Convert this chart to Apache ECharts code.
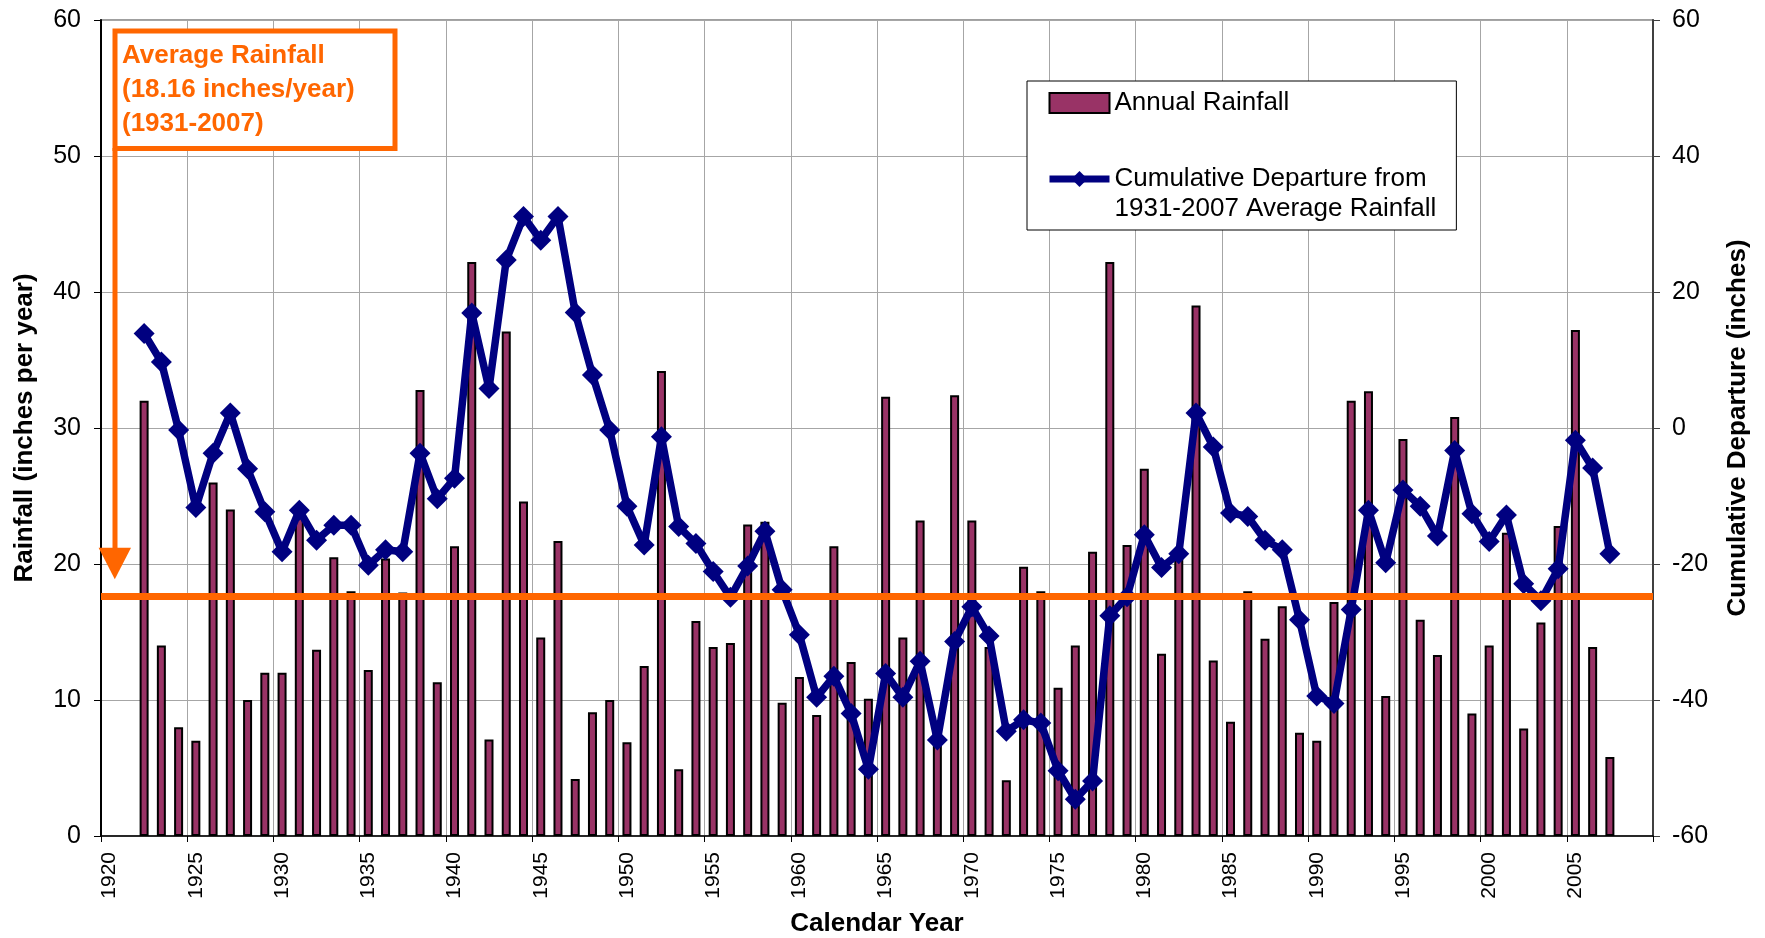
<!DOCTYPE html>
<html>
<head>
<meta charset="utf-8">
<title>Annual Rainfall and Cumulative Departure</title>
<script src="https://cdn.jsdelivr.net/npm/echarts/dist/echarts.min.js"></script>
<style>
  html, body { margin: 0; padding: 0; background: #fff; }
  #chart { width: 1765px; height: 938px; }
</style>
</head>
<body>
<div id="chart"></div>
<script>
// category axis runs 1920-2009, data starts in 1922
const firstYear = 1920;
const lastYear = 2009;
const dataStartYear = 1922;

// annual rainfall, inches (1922-2007)
const rainfall = [
  32.0, 14.0, 8.0, 7.0, 26.0, 24.0, 10.0, 12.0, 12.0,             // 1922-1930
  24.2, 13.7, 20.5, 18.0, 12.2, 20.4, 17.9, 32.8, 11.3, 21.3,     // 1931-1940
  42.2, 7.1, 37.1, 24.6, 14.6, 21.7, 4.2, 9.1, 10.0, 6.9,         // 1941-1950
  12.5, 34.2, 4.9, 15.8, 13.9, 14.2, 22.9, 23.1, 9.8, 11.7,       // 1951-1960
  8.9, 21.3, 12.8, 10.1, 32.3, 14.6, 23.2, 6.8, 32.4, 23.2,       // 1961-1970
  13.9, 4.1, 19.8, 18.0, 10.9, 14.0, 20.9, 42.2, 21.4, 27.0,      // 1971-1980
  13.4, 20.4, 39.0, 12.9, 8.4, 18.0, 14.5, 16.9, 7.6, 7.0,        // 1981-1990
  17.2, 32.0, 32.7, 10.3, 29.2, 15.9, 13.3, 30.8, 9.0, 14.0,      // 1991-2000
  22.3, 7.9, 15.7, 22.8, 37.2, 13.9, 5.8                          // 2001-2007
];

// cumulative departure from the 1931-2007 average, inches (1922-2007)
const departure = [
  13.9, 9.7, -0.3, -11.7, -3.7, 2.2, -6.0, -12.3, -18.2,                 // 1922-1930
  -12.1, -16.5, -14.3, -14.3, -20.2, -17.9, -18.2, -3.7, -10.4, -7.4,    // 1931-1940
  16.9, 5.8, 24.7, 31.1, 27.6, 31.1, 17.0, 7.8, -0.3, -11.5,             // 1941-1950
  -17.2, -1.3, -14.5, -17.0, -21.1, -24.9, -20.3, -15.2, -23.8, -30.4,   // 1951-1960
  -39.6, -36.5, -42.0, -50.2, -36.1, -39.6, -34.3, -45.9, -31.4, -26.3,  // 1961-1970
  -30.6, -44.6, -42.9, -43.4, -50.4, -54.6, -51.9, -27.6, -24.8, -15.7,  // 1971-1980
  -20.5, -18.5, 2.2, -2.8, -12.5, -13.0, -16.5, -17.9, -28.2, -39.4,     // 1981-1990
  -40.5, -26.7, -12.1, -19.8, -9.1, -11.5, -15.9, -3.3, -12.6, -16.7,    // 1991-2000
  -12.8, -22.9, -25.4, -20.7, -1.8, -5.9, -18.5                          // 2001-2007
];

// level at which the average rainfall line is drawn on the left axis
const averageLineLevel = 17.6;

const barName = 'Annual Rainfall';
const lineName = 'Cumulative Departure from\n1931-2007 Average Rainfall';

const years = [];
for (let y = firstYear; y <= lastYear; y++) years.push(String(y));

function onYears(values) {
  return years.map(function (y) {
    const v = values[Number(y) - dataStartYear];
    return v === undefined ? null : v;
  });
}

const FONT = '"Liberation Sans", Arial, sans-serif';
const ORANGE = '#FF6600';
const NAVY = '#000080';
const PLUM = '#993366';
const GRID = '#a6a6a6';

const chart = echarts.init(document.getElementById('chart'));

const option = {
  animation: false,
  backgroundColor: '#fff',
  textStyle: { fontFamily: FONT },
  grid: {
    left: 101, right: 112, top: 20, bottom: 102,
    show: true, borderColor: '#808080', borderWidth: 1.5,
    outerBoundsMode: 'none'
  },
  legend: {
    orient: 'vertical',
    left: 1027, top: 81,
    padding: [7, 20, 6, 19],
    itemGap: 16,
    itemWidth: 60,
    itemHeight: 20,
    backgroundColor: '#fff',
    borderColor: '#000',
    borderWidth: 1,
    selectedMode: false,
    textStyle: { fontSize: 26, lineHeight: 30, color: '#000', fontFamily: FONT },
    lineStyle: { width: 7 },
    // blank first line keeps the line icon beside the first text line
    formatter: function (name) {
      return name === lineName ? '\n' + name : name;
    },
    data: [
      { name: barName, icon: 'rect' },
      { name: lineName }
    ]
  },
  xAxis: {
    type: 'category',
    data: years,
    boundaryGap: true,
    name: 'Calendar Year',
    nameLocation: 'middle',
    nameGap: 75,
    nameTextStyle: { fontSize: 26, fontWeight: 'bold', color: '#000', fontFamily: FONT },
    axisLine: { lineStyle: { color: '#000', width: 1.5 } },
    axisTick: { show: true, interval: 4, length: 6, lineStyle: { color: '#000' } },
    axisLabel: { interval: 4, rotate: 90, fontSize: 21, margin: 16, color: '#000', fontFamily: FONT },
    splitLine: { show: true, interval: 4, lineStyle: { color: GRID, width: 1 } }
  },
  yAxis: [
    {
      type: 'value',
      position: 'left',
      min: 0, max: 60, interval: 10,
      name: 'Rainfall (inches per year)',
      nameLocation: 'middle',
      nameRotate: 90,
      nameGap: 63,
      nameTextStyle: { fontSize: 26, fontWeight: 'bold', color: '#000', fontFamily: FONT },
      axisLine: { show: true, lineStyle: { color: '#000', width: 2 } },
      axisTick: { show: true, length: 7, lineStyle: { color: '#000' } },
      axisLabel: { fontSize: 25, margin: 20, color: '#000', fontFamily: FONT },
      splitLine: { show: true, lineStyle: { color: GRID, width: 1 } }
    },
    {
      type: 'value',
      position: 'right',
      min: -60, max: 60, interval: 20,
      name: 'Cumulative Departure (inches)',
      nameLocation: 'middle',
      nameRotate: 90,
      nameGap: 72,
      nameTextStyle: { fontSize: 26, fontWeight: 'bold', color: '#000', fontFamily: FONT },
      axisLine: { show: true, lineStyle: { color: '#404040', width: 2 } },
      axisTick: { show: true, length: 7, lineStyle: { color: '#404040' } },
      axisLabel: { fontSize: 25, margin: 19, color: '#000', fontFamily: FONT },
      splitLine: { show: false }
    }
  ],
  series: [
    {
      name: barName,
      type: 'bar',
      yAxisIndex: 0,
      data: onYears(rainfall),
      barWidth: 9,
      itemStyle: { color: PLUM, borderColor: '#000', borderWidth: 2 },
      z: 2,
      markLine: {
        silent: true,
        symbol: ['none', 'none'],
        label: { show: false },
        lineStyle: { color: ORANGE, width: 7, type: 'solid' },
        emphasis: { disabled: true },
        data: [{ yAxis: averageLineLevel }]
      }
    },
    {
      name: lineName,
      type: 'line',
      yAxisIndex: 1,
      data: onYears(departure),
      symbol: 'diamond',
      symbolSize: [21, 21],
      showAllSymbol: true,
      lineStyle: { color: NAVY, width: 7.5 },
      itemStyle: { color: NAVY },
      z: 3
    }
  ],
  graphic: [
    {
      type: 'rect', z: 100,
      shape: { x: 115, y: 31, width: 280, height: 117.5 },
      style: { fill: '#fff', stroke: ORANGE, lineWidth: 5 }
    },
    {
      type: 'text', z: 101,
      style: {
        x: 122, y: 39,
        text: 'Average Rainfall\n(18.16 inches/year)\n(1931-2007)',
        fill: ORANGE,
        fontSize: 26, fontWeight: 'bold', fontFamily: FONT,
        lineHeight: 34,
        verticalAlign: 'top'
      }
    },
    {
      type: 'line', z: 100,
      shape: { x1: 115, y1: 148, x2: 115, y2: 549 },
      style: { stroke: ORANGE, lineWidth: 5 }
    },
    {
      type: 'polygon', z: 100,
      shape: { points: [[98.6, 547.7], [131, 547.7], [114.8, 579.3]] },
      style: { fill: ORANGE }
    }
  ]
};

chart.setOption(option);
</script>
</body>
</html>
